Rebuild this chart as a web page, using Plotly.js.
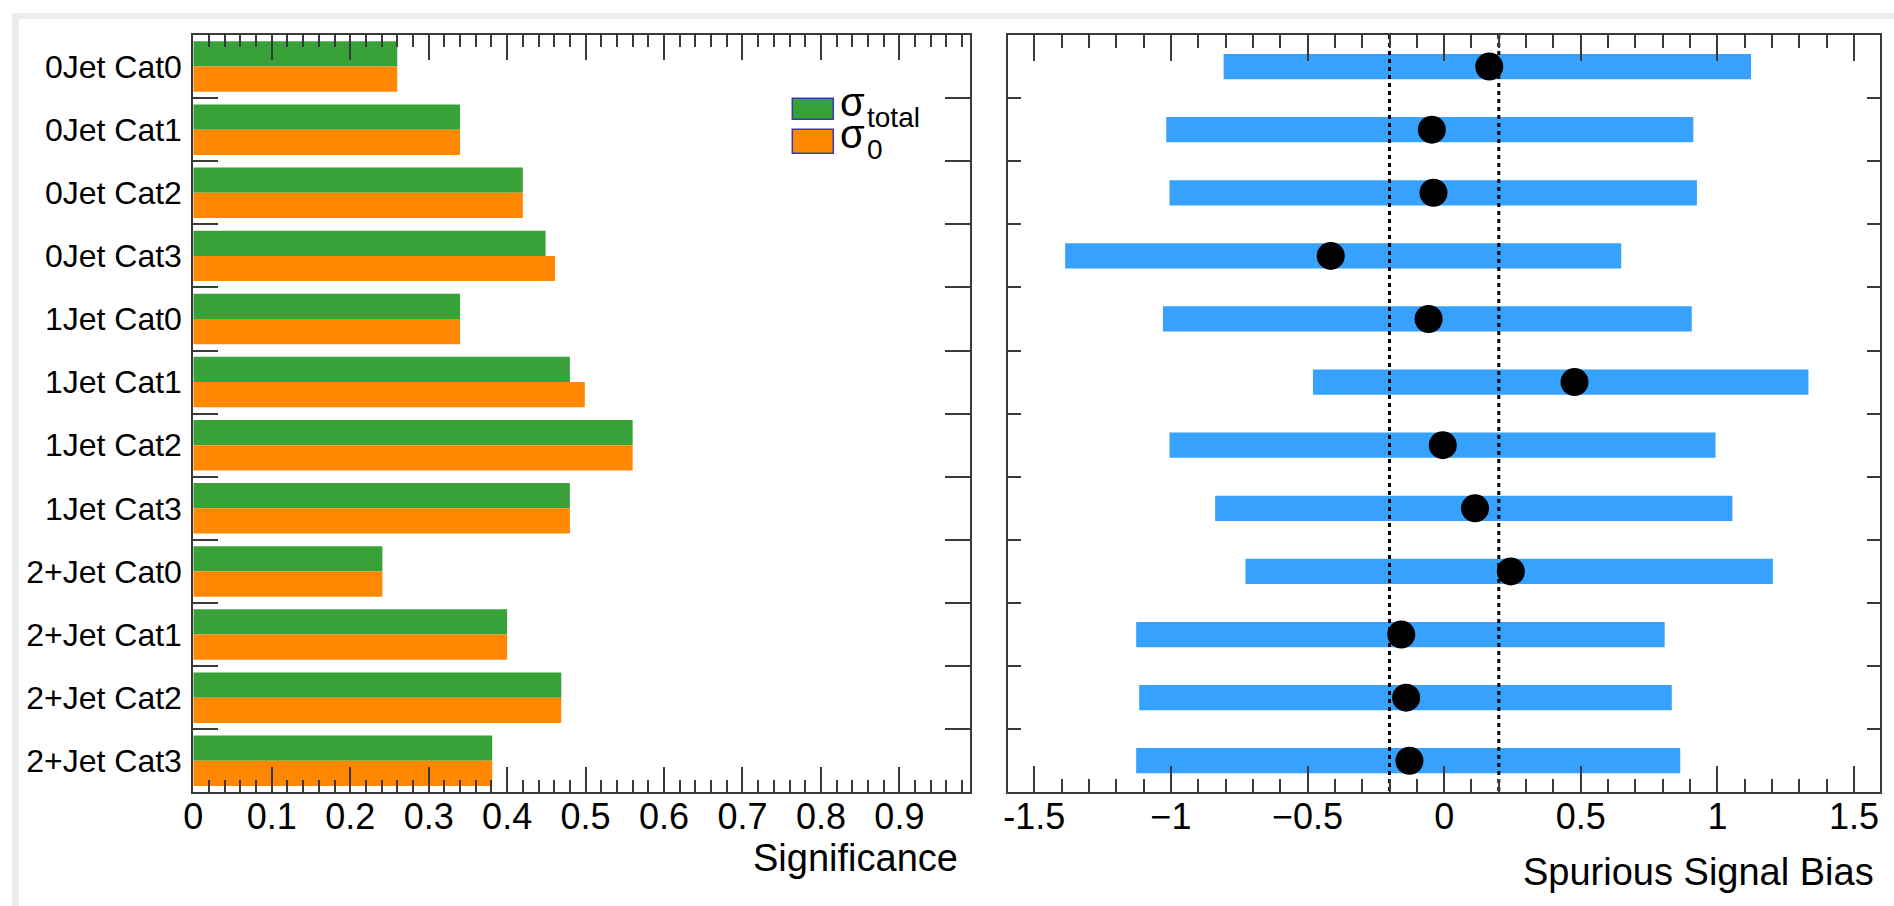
<!DOCTYPE html>
<html>
<head>
<meta charset="utf-8">
<script src="https://cdn.plot.ly/plotly-3.0.1.min.js"></script>
<style>
  html, body { margin: 0; padding: 0; background: #ffffff; }
  #frame { position: absolute; left: 12px; top: 13px; width: 1882px; height: 893px;
           border-left: 7px solid #eceeee; border-top: 6px solid #eceeee; box-sizing: border-box; }
  #chart { position: absolute; left: 0; top: 0; width: 1894px; height: 906px; }
</style>
</head>
<body>
<div id="frame"></div>
<div id="chart"></div>
<script>
// ---------------- data ----------------
const categories = ["0Jet Cat0", "0Jet Cat1", "0Jet Cat2", "0Jet Cat3",
                    "1Jet Cat0", "1Jet Cat1", "1Jet Cat2", "1Jet Cat3",
                    "2+Jet Cat0", "2+Jet Cat1", "2+Jet Cat2", "2+Jet Cat3"];
const sigmaTotal = [0.26, 0.34, 0.42, 0.449, 0.34, 0.48, 0.56, 0.48, 0.241, 0.40, 0.469, 0.381];
const sigmaZero  = [0.26, 0.34, 0.42, 0.461, 0.34, 0.499, 0.56, 0.48, 0.241, 0.40, 0.469, 0.381];

const biasCentral = [0.165, -0.045, -0.039, -0.415, -0.057, 0.477, -0.005, 0.113, 0.244, -0.157, -0.139, -0.127];
const biasLow     = [-0.807, -1.017, -1.005, -1.387, -1.029, -0.480, -1.005, -0.838, -0.727, -1.127, -1.116, -1.127];
const biasHigh    = [1.123, 0.912, 0.925, 0.648, 0.906, 1.333, 0.993, 1.055, 1.203, 0.807, 0.833, 0.864];
const refLines    = [-0.2, 0.2];

const sigTickVals  = [0, 0.1, 0.2, 0.3, 0.4, 0.5, 0.6, 0.7, 0.8, 0.9];
const biasTickVals = [-1.5, -1, -0.5, 0, 0.5, 1, 1.5];
const biasTickText = ["-1.5", "\u22121", "\u22120.5", "0", "0.5", "1", "1.5"];

// ---------------- styling ----------------
const W = 1894, H = 906;
const FONT = "Liberation Sans, Arial, Helvetica, sans-serif";
const AX = "#3a3a3a";
const GREEN = "#38a137", ORANGE = "#ff8800", BLUE = "#36a2fd";
const px = v => v / W, py = v => 1 - v / H;

const idx = categories.map((c, i) => i);
const boundaries = categories.slice(1).map((c, i) => i + 0.5);

const traces = [
  { type: "bar", orientation: "h", name: "σ total", y: categories, x: sigmaTotal,
    marker: { color: GREEN }, xaxis: "x", yaxis: "y", showlegend: false, hoverinfo: "x+y" },
  { type: "bar", orientation: "h", name: "σ 0", y: categories, x: sigmaZero,
    marker: { color: ORANGE }, xaxis: "x", yaxis: "y", showlegend: false, hoverinfo: "x+y" },
  { type: "bar", orientation: "h", y: idx, base: biasLow,
    x: biasHigh.map((h, i) => h - biasLow[i]), width: 0.4,
    marker: { color: BLUE }, xaxis: "x2", yaxis: "y2", showlegend: false, hoverinfo: "skip" },
  { type: "scatter", mode: "lines",
    x: refLines.flatMap(v => [v, v, null]),
    y: refLines.flatMap(v => [-0.5, categories.length - 0.5, null]),
    line: { color: "#000", width: 3, dash: "4px,4px" },
    xaxis: "x2", yaxis: "y2", showlegend: false, hoverinfo: "skip" },
  { type: "scatter", mode: "markers", x: biasCentral, y: idx,
    marker: { color: "#000", size: 28 }, text: categories,
    xaxis: "x2", yaxis: "y2", showlegend: false, hoverinfo: "x+text" }
];

const axCommon = {
  showline: true, linecolor: AX, linewidth: 2, mirror: "ticks",
  ticks: "inside", tickcolor: AX, tickwidth: 2,
  showgrid: false, zeroline: false,
  tickfont: { family: FONT, size: 36, color: "#000" }
};

const layout = {
  width: W, height: H,
  margin: { l: 0, r: 0, t: 0, b: 0 },
  paper_bgcolor: "rgba(0,0,0,0)", plot_bgcolor: "#ffffff",
  barmode: "group", bargap: 0.2, bargroupgap: 0,
  font: { family: FONT, color: "#000" },
  xaxis: Object.assign({}, axCommon, {
    domain: [px(193.3), px(970)], range: [0, 0.99],
    tickvals: sigTickVals, ticklen: 25, anchor: "y", ticklabelstandoff: -9,
    minor: { ticks: "inside", dtick: 0.02, tick0: 0, ticklen: 12, tickcolor: AX, tickwidth: 2 }
  }),
  yaxis: Object.assign({}, axCommon, {
    domain: [py(792.3), py(35)], type: "category", categoryorder: "array",
    categoryarray: categories, range: [categories.length - 0.5, -0.5],
    tickson: "boundaries", ticklen: 25, anchor: "x", ticklabelstandoff: 3,
    tickfont: { family: FONT, size: 32, color: "#000" }
  }),
  xaxis2: Object.assign({}, axCommon, {
    domain: [px(1008.3), px(1880)], range: [-1.595, 1.595],
    tickvals: biasTickVals, ticktext: biasTickText, ticklen: 26, anchor: "y2", ticklabelstandoff: -9,
    minor: { ticks: "inside", dtick: 0.1, tick0: 0, ticklen: 13, tickcolor: AX, tickwidth: 2 }
  }),
  yaxis2: Object.assign({}, axCommon, {
    domain: [py(792.3), py(35)], range: [categories.length - 0.5, -0.5],
    tickvals: boundaries, showticklabels: false, ticklen: 13, anchor: "x2"
  }),
  shapes: [
    { type: "rect", xref: "paper", yref: "paper", x0: px(792.3), x1: px(833.3), y0: py(98.3), y1: py(119.3),
      fillcolor: GREEN, line: { color: "#3b3bb0", width: 1.5 } },
    { type: "rect", xref: "paper", yref: "paper", x0: px(792.3), x1: px(833.3), y0: py(129.3), y1: py(153.3),
      fillcolor: ORANGE, line: { color: "#3b3bb0", width: 1.5 } }
  ],
  annotations: [
    { text: "σ", xref: "paper", yref: "paper", x: px(838), y: py(102), xanchor: "left", yanchor: "middle",
      showarrow: false, font: { family: FONT, size: 40, color: "#000" } },
    { text: "total", xref: "paper", yref: "paper", x: px(865), y: py(117), xanchor: "left", yanchor: "middle",
      showarrow: false, font: { family: FONT, size: 28, color: "#000" } },
    { text: "σ", xref: "paper", yref: "paper", x: px(838), y: py(134), xanchor: "left", yanchor: "middle",
      showarrow: false, font: { family: FONT, size: 40, color: "#000" } },
    { text: "0", xref: "paper", yref: "paper", x: px(865), y: py(150), xanchor: "left", yanchor: "middle",
      showarrow: false, font: { family: FONT, size: 28, color: "#000" } },
    { text: "Significance", xref: "paper", yref: "paper", x: px(960), y: py(858), xanchor: "right", yanchor: "middle",
      showarrow: false, font: { family: FONT, size: 38, color: "#000" } },
    { text: "Spurious Signal Bias", xref: "paper", yref: "paper", x: px(1876), y: py(872), xanchor: "right", yanchor: "middle",
      showarrow: false, font: { family: FONT, size: 38, color: "#000" } }
  ]
};

Plotly.newPlot("chart", traces, layout, { displayModeBar: false, staticPlot: true });
</script>
</body>
</html>
